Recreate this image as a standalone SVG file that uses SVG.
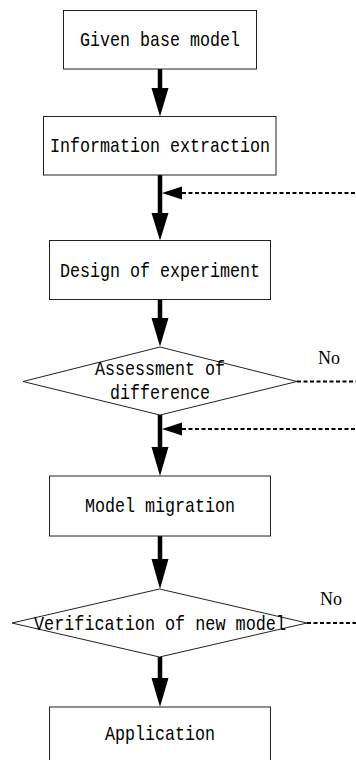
<svg xmlns="http://www.w3.org/2000/svg" width="356" height="760" viewBox="0 0 356 760">
<style>
.box{fill:#fff;stroke:#222;stroke-width:1}
.t{font-family:"Liberation Mono","DejaVu Sans Mono",monospace;font-size:21px;fill:#000;text-anchor:middle}
.no{font-family:"Liberation Serif","DejaVu Serif",serif;font-size:18px;fill:#000}
.main{stroke:#000;stroke-width:4.5;fill:none}
.dash{stroke:#000;stroke-width:2;stroke-dasharray:4,2.5;fill:none}
.head{fill:#000}
</style>
<rect width="356" height="760" fill="#fff"/>
<g id="connectors">
<line class="main" x1="160" y1="69" x2="160" y2="89"/>
<polygon class="head" points="151.5,88 168.5,88 160,116.5"/>
<line class="main" x1="160" y1="175" x2="160" y2="214"/>
<polygon class="head" points="151.5,213 168.5,213 160,240.5"/>
<polygon class="head" points="162,193 182,186.5 182,199.5"/>
<line class="dash" x1="182" y1="193" x2="356" y2="193"/>
<line class="main" x1="160" y1="299.5" x2="160" y2="319"/>
<polygon class="head" points="151.5,318 168.5,318 160,346.5"/>
<line class="dash" x1="297" y1="381.5" x2="356" y2="381.5"/>
<line class="main" x1="160" y1="415" x2="160" y2="448"/>
<polygon class="head" points="151.5,447 168.5,447 160,476"/>
<polygon class="head" points="162,429 182,422.5 182,435.5"/>
<line class="dash" x1="182" y1="429" x2="356" y2="429"/>
<line class="main" x1="160" y1="536" x2="160" y2="560"/>
<polygon class="head" points="151.5,559 168.5,559 160,589"/>
<line class="dash" x1="307" y1="623" x2="356" y2="623"/>
<line class="main" x1="160" y1="657" x2="160" y2="679"/>
<polygon class="head" points="151.5,678 168.5,678 160,707"/>
<text class="no" x="318" y="364">No</text>
<text class="no" x="320" y="605">No</text>
</g>
<g id="given">
<rect class="box" x="63.5" y="10.5" width="193" height="58.5"/>
<text class="t" x="160" y="45.5" textLength="160" lengthAdjust="spacingAndGlyphs">Given base model</text>
</g>
<g id="extraction">
<rect class="box" x="43.5" y="116.5" width="232.5" height="58.5"/>
<text class="t" x="160" y="152" textLength="220" lengthAdjust="spacingAndGlyphs">Information extraction</text>
</g>
<g id="design">
<rect class="box" x="49.5" y="240.5" width="221" height="59"/>
<text class="t" x="160" y="276.5" textLength="200" lengthAdjust="spacingAndGlyphs">Design of experiment</text>
</g>
<g id="assessment">
<polygon class="box" points="160,347 297,381.5 160,415 23,381.5"/>
<text class="t" x="160" y="375" textLength="130" lengthAdjust="spacingAndGlyphs">Assessment of</text>
<text class="t" x="160" y="398.5" textLength="100" lengthAdjust="spacingAndGlyphs">difference</text>
</g>
<g id="migration">
<rect class="box" x="49.5" y="476" width="221" height="60"/>
<text class="t" x="160" y="512" textLength="150" lengthAdjust="spacingAndGlyphs">Model migration</text>
</g>
<g id="verification">
<polygon class="box" points="159.5,589 307,623 159.5,657 12,623"/>
<text class="t" x="160" y="630" textLength="252" lengthAdjust="spacingAndGlyphs">Verification of new model</text>
</g>
<g id="application">
<rect class="box" x="49.5" y="707" width="221" height="60"/>
<text class="t" x="160" y="740" textLength="110" lengthAdjust="spacingAndGlyphs">Application</text>
</g>
</svg>
